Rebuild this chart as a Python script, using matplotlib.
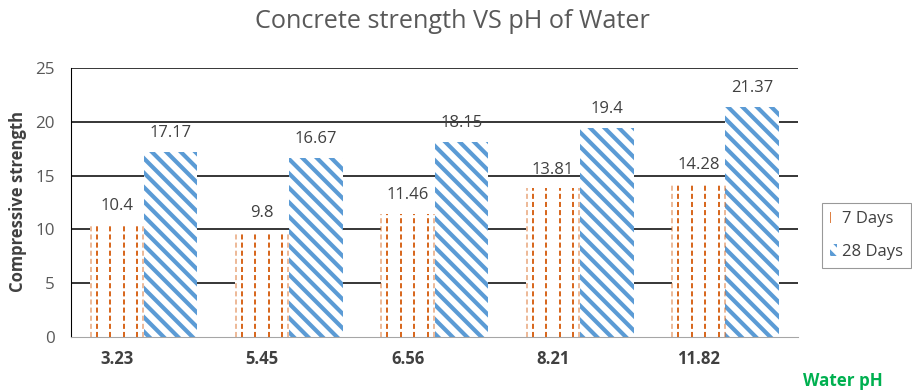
import numpy as np
import matplotlib.pyplot as plt
from matplotlib.patches import Patch

ph = ['3.23', '5.45', '6.56', '8.21', '11.82']
days7 = [10.4, 9.8, 11.46, 13.81, 14.28]
days28 = [17.17, 16.67, 18.15, 19.4, 21.37]

orange = '#D8681F'
blue = '#5B9BD5'
grey_txt = '#595959'
dark_txt = '#404040'

DPI = 130
plt.rcParams['font.family'] = ['Open Sans', 'DejaVu Sans']
plt.rcParams['hatch.linewidth'] = 2.3
plt.rcParams['lines.scale_dashes'] = False

fig = plt.figure(figsize=(912 / DPI, 392 / DPI), dpi=DPI)
ax = fig.add_axes([71 / 912, 55 / 392, 727 / 912, 269 / 392])

x = np.arange(len(ph))
w = 0.37
b7 = ax.bar(x - w / 2, days7, w, color='white', linewidth=0, zorder=2)
b28 = ax.bar(x + w / 2, days28, w, color='white', edgecolor=blue,
             hatch='\\\\\\', linewidth=0, zorder=2)

# dashed vertical pattern for the 7-day bars
for r in b7:
    x0, wd, h = r.get_x(), r.get_width(), r.get_height()
    inner = x0 + wd * (np.arange(4) + 0.5) / 4
    ax.vlines(inner, 0, h, color=orange, lw=1.1, linestyles=(0, (2.8, 1.7)), zorder=3)
    ax.vlines([x0 + 0.005, x0 + wd - 0.005], 0, h, color=orange, alpha=0.5,
              lw=1.0, linestyles=(0, (2.8, 1.7)), zorder=3)

for bars, vals in ((b7, days7), (b28, days28)):
    for r, v in zip(bars, vals):
        ax.annotate(f'{v:g}', (r.get_x() + r.get_width() / 2, r.get_height()),
                    xytext=(0, 6), textcoords='offset points', ha='center',
                    va='bottom', fontsize=9.2, color=dark_txt)

ax.set_xlim(-0.5, len(ph) - 0.5)
ax.set_ylim(0, 25)
ax.set_yticks(np.arange(0, 26, 5))
ax.set_xticks(x - w / 2, ph, fontweight='bold', color=dark_txt, fontsize=9.2)
ax.tick_params(axis='y', length=0, pad=9, labelsize=9.4, labelcolor=grey_txt)
ax.tick_params(axis='x', length=0, pad=7)

ax.set_axisbelow(True)
ax.yaxis.grid(True, color='black', lw=0.85)
ax.get_ygridlines()[0].set_visible(False)
for s in ('top', 'right'):
    ax.spines[s].set_visible(False)
ax.spines['left'].set_color('black')
ax.spines['left'].set_linewidth(0.6)
ax.spines['bottom'].set_color('#A6A6A6')
ax.spines['bottom'].set_linewidth(0.6)

fig.text(452 / 912, 1 - 22 / 392, 'Concrete strength VS pH of Water',
         ha='center', va='center', fontsize=14, color=grey_txt)
fig.text(18 / 912, 1 - 202 / 392, 'Compressive strength', rotation=90,
         ha='center', va='center', fontsize=9.2, fontweight='bold', color=dark_txt)
fig.text(843 / 912, 1 - 381 / 392, 'Water pH', ha='center', va='center',
         fontsize=9.4, fontweight='bold', color='#00B050')

handles = [Patch(facecolor='white', edgecolor=orange, hatch='||', lw=0),
           Patch(facecolor='white', edgecolor=blue, hatch='\\\\\\', lw=0)]
leg = fig.legend(handles, ['7 Days', '28 Days'], loc='upper left',
                 bbox_to_anchor=(822 / 912, 1 - 203 / 392), borderaxespad=0,
                 fancybox=False, edgecolor='#808080', fontsize=9.2,
                 handlelength=0.4, handleheight=0.7, handletextpad=0.3,
                 labelspacing=1.0, borderpad=0.5, labelcolor=dark_txt)
leg.get_frame().set_linewidth(0.6)

fig.savefig('out.png', dpi=DPI)
